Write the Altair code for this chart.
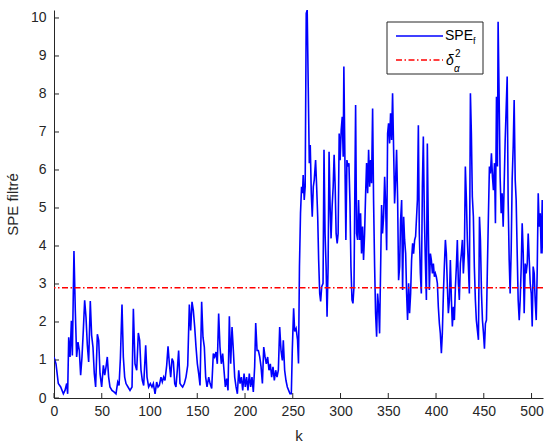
import altair as alt
import pandas as pd

# ---- data (k, SPE filtered) ----
k_a = [0, 2.1, 4.5, 7.0, 9.8, 11.5, 13.3, 14.3, 15.4, 16.8,
       18.2, 19.2, 20.9, 22.3, 23.7, 25.1, 26.5, 27.9, 29.3, 30.7,
       32.1, 33.5, 34.9, 36.3, 38.0, 39.4, 40.8, 42.2, 43.6, 45.4,
       46.8, 48.2, 49.9, 51.7, 53.1, 54.5, 55.8, 57.2, 58.6, 60.7,
       62.8, 64.9, 66.7, 68.1, 69.5, 71.2, 72.6, 74.0, 75.4, 77.5,
       79.6, 81.7, 83.1, 84.8, 86.6, 88.3, 89.7, 91.1, 92.5, 93.9,
       96.0, 97.4, 99.1, 100.9, 102.6, 104.0, 105.8, 107.5, 108.9, 110.3,
       112.0, 113.4, 114.8, 116.2, 118.0, 119.4, 120.8, 122.2, 123.6, 125.0,
       126.4, 127.7, 129.1, 130.5, 131.9, 133.3, 134.7, 136.5, 138.2, 140.0,
       141.7, 143.1, 144.5, 145.9, 147.3, 148.7, 150.1, 151.5, 152.9, 154.6,
       156.0, 157.4, 158.8, 160.2, 162.0, 163.4, 165.1, 166.8, 168.2, 169.6,
       171.0, 172.4, 173.8, 175.2, 176.6, 178.0, 179.4, 180.8, 182.2, 183.6,
       185.0, 186.4, 187.8, 189.2, 190.6, 192.0, 193.4, 194.8, 196.2, 197.6,
       199.0, 200.3, 201.7, 203.1, 204.5, 205.9, 207.3, 208.7, 210.1, 211.2,
       212.6, 214.0, 215.4, 216.8, 218.2, 219.6, 221.0, 222.3, 223.7, 225.1,
       226.5, 227.9, 229.3, 230.7, 232.1, 233.5, 234.9, 236.3, 237.7, 239.1,
       240.1, 241.5, 242.9, 244.3, 245.7, 247.1, 248.5]
v_a = [1.08, 0.9, 0.38, 0.29, 0.11, 0.2, 0.38, 0.11, 1.6, 1.08,
       2.03, 1.12, 3.87, 2.3, 1.08, 1.47, 1.25, 0.6, 1.08, 1.78,
       2.57, 2.13, 1.39, 0.95, 2.55, 1.65, 1.34, 0.64, 0.29, 1.68,
       1.52, 0.64, 0.29, 0.86, 0.6, 0.82, 1.08, 0.55, 0.29, 0.2,
       0.16, 0.11, 0.42, 0.33, 1.04, 2.46, 1.08, 0.55, 0.38, 0.29,
       0.2, 0.29, 2.35, 0.9, 0.73, 1.71, 1.52, 0.73, 0.46, 0.33,
       1.39, 0.55, 0.29, 0.38, 0.29, 0.38, 0.11, 0.42, 0.29, 0.33,
       0.55, 0.42, 0.55, 0.46, 0.86, 1.36, 0.9, 0.55, 1.04, 0.95,
       0.38, 0.29, 0.73, 1.25, 0.38, 0.33, 0.29, 0.38, 0.55, 0.86,
       2.46, 1.78, 2.53, 2.3, 1.87, 1.34, 0.9, 0.64, 0.33, 2.53,
       1.6, 1.34, 0.55, 0.29, 0.55, 0.38, 0.25, 1.17, 1.08, 1.21,
       0.9, 2.22, 1.34, 0.9, 1.17, 0.73, 0.29, 0.51, 0.2, 2.15,
       0.9, 1.87, 1.25, 0.55, 0.29, 0.11, 0.73, 0.38, 0.55, 0.2,
       0.64, 0.29, 0.55, 0.2, 0.64, 0.29, 0.55, 0.16, 0.82, 1.97,
       1.25, 1.25, 1.08, 0.82, 0.38, 1.34, 1.08, 0.9, 1.08, 0.73,
       0.9, 0.55, 0.82, 0.46, 0.73, 0.55, 0.73, 1.87, 1.25, 0.99,
       1.52, 0.73, 0.46, 0.29, 0.2, 0.11, 0.11]

k_b = [249.5, 250.9, 252.0, 253.5, 255.0, 256.0, 257.0, 258.1, 259.2, 260.2,
       260.9, 262.0, 263.0, 264.1, 265.1, 266.2, 267.3, 268.3, 269.4, 270.4,
       271.5, 272.5, 273.9, 275.0, 276.1, 277.1, 278.2, 279.2, 280.3, 281.7,
       282.7, 283.8, 284.9, 285.9, 287.0, 288.0, 289.1, 290.1, 291.2, 292.3,
       293.3, 294.4, 295.4, 296.5, 297.5, 298.6, 299.6, 300.7, 301.8, 302.8,
       303.5, 304.6, 305.6, 306.7, 307.7, 308.8, 309.9, 310.9, 312.0, 313.0, 314.1]
v_b = [1.26, 2.36, 1.75, 1.83, 1.53, 0.91, 3.46, 4.86, 5.56, 5.39,
       5.87, 5.21, 5.56, 10.12, 10.21, 8.19, 6.18, 6.66, 5.39, 4.77,
       5.56, 5.74, 6.26, 5.56, 4.77, 3.63, 2.75, 2.54, 2.93, 3.02,
       6.53, 4.33, 3.46, 2.14, 3.46, 6.48, 5.04, 4.2, 5.04, 5.56,
       6.4, 5.56, 4.33, 4.07, 4.33, 6.96, 6.26, 7.05, 7.4, 6.35,
       8.72, 6.26, 4.16, 6.26, 6.09, 6.18, 5.12, 3.46, 2.58, 2.49, 2.93]

k_c = [315.8, 316.8, 317.9, 318.9, 320.0, 321.0, 322.0, 323.1, 324.1, 325.2,
       326.3, 327.3, 328.4, 329.4, 330.5, 331.5, 332.5, 333.6, 334.6, 335.7,
       336.7, 337.8, 338.8, 339.9, 340.9, 341.9, 343.0, 344.0, 345.1, 346.2,
       347.2, 348.3, 349.3, 350.3, 351.4, 352.4, 353.5, 354.5, 355.6, 356.6,
       357.7, 358.7, 359.8, 360.8, 361.9, 362.9, 364.0, 365.0, 366.1, 367.1,
       368.2, 369.2, 370.2, 371.3, 372.3, 373.4, 374.4, 375.5, 376.5, 377.6, 378.6]
v_c = [7.71, 4.33, 4.16, 5.21, 4.16, 4.86, 3.8, 4.51, 3.63, 4.33,
       5.39, 6.18, 5.39, 6.53, 5.56, 6.26, 5.65, 7.62, 5.21, 3.46,
       2.23, 1.61, 2.75, 2.4, 1.7, 3.28, 5.08, 4.33, 4.77, 5.82,
       5.12, 3.89, 6.96, 7.23, 6.7, 7.49, 6.79, 8.02, 6.53, 5.12,
       5.74, 6.53, 5.21, 3.1, 3.46, 4.68, 5.21, 2.84, 4.77, 4.16,
       3.8, 2.75, 2.05, 3.02, 2.23, 2.75, 3.63, 4.07, 3.8, 4.16, 4.25]

k_d = [380.5, 381.5, 382.5, 383.6, 384.6, 385.7, 386.7, 387.8, 388.8, 389.9,
       390.9, 392.0, 393.0, 394.1, 395.1, 396.2, 397.2, 398.3, 399.3, 400.3,
       401.4, 402.4, 403.5, 404.5, 405.6, 406.6, 407.7, 408.7, 409.8, 410.8,
       411.9, 412.9, 414.0, 415.0, 416.1, 417.1, 418.2, 419.2, 420.3, 421.3,
       422.3, 423.4, 424.4, 425.5, 426.5, 427.6, 428.6, 429.7, 430.7, 431.8,
       432.8, 433.9, 434.9, 436.0, 437.0, 438.0, 439.1, 440.1, 441.2, 442.2]
v_d = [5.21, 7.18, 4.33, 3.28, 2.75, 5.56, 6.88, 4.77, 3.63, 2.58,
       6.7, 4.33, 2.84, 3.8, 3.63, 3.28, 3.54, 3.19, 3.28, 3.19,
       3.02, 2.4, 1.96, 1.7, 1.18, 1.7, 2.75, 3.46, 4.16, 3.8,
       2.93, 2.23, 2.58, 3.63, 2.58, 1.88, 2.4, 2.05, 2.93, 3.46,
       4.16, 3.02, 2.58, 3.54, 3.8, 4.16, 3.28, 3.8, 6.09, 5.21,
       4.16, 3.46, 2.75, 8.02, 6.96, 5.3, 4.77, 3.46, 2.58, 2.05]

k_e = [444.4, 445.5, 446.5, 447.6, 448.6, 449.7, 450.7, 451.7, 452.8, 453.8,
       454.9, 455.9, 457.0, 458.0, 459.1, 460.1, 461.2, 462.2, 463.3, 464.3,
       465.0, 466.1, 467.1, 468.2, 469.2, 470.3, 471.3, 472.4, 473.4, 474.5,
       475.5, 476.6, 477.6, 478.7, 479.7, 480.8, 481.8, 482.9, 483.9, 485.0,
       486.0, 487.1, 488.1, 489.2, 490.2, 491.3, 492.3, 493.4, 494.4, 495.5,
       496.5, 497.6, 498.6, 499.7, 500.7, 501.7, 502.8, 503.8, 504.9, 505.9,
       507.0, 508.0, 509.1, 510.1, 511.2, 512.0]
v_e = [1.53, 4.77, 4.16, 2.75, 2.05, 1.7, 1.3, 1.96, 2.05, 3.46,
       4.86, 6.09, 5.91, 6.44, 5.82, 5.47, 6.18, 4.6, 7.93, 6.09,
       9.9, 7.84, 5.82, 4.86, 5.39, 4.51, 5.56, 6.79, 7.58, 8.46,
       5.21, 3.63, 2.75, 3.89, 5.74, 6.61, 7.84, 5.74, 5.21, 3.8,
       2.58, 2.05, 2.58, 3.46, 4.6, 3.8, 2.23, 3.54, 3.28, 3.54,
       4.33, 3.63, 3.02, 2.75, 1.88, 3.46, 3.28, 2.58, 2.05, 3.28,
       5.39, 4.51, 4.86, 3.8, 5.21, 3.8]

threshold = [2.9]
x_ticks = [0, 50, 100, 150, 200, 250, 300, 350, 400, 450, 500]
y_ticks = [0, 1, 2, 3, 4, 5, 6, 7, 8, 9, 10]

k_all = k_a + k_b + k_c + k_d + k_e
v_all = v_a + v_b + v_c + v_d + v_e
df = pd.DataFrame({"k": k_all, "v": v_all})

W, H = 489, 388
FONT = "Liberation Sans"
INK = "#262626"
xscale = alt.Scale(domain=[0, 512], nice=False, zero=False)
yscale = alt.Scale(domain=[0, 10.21], nice=False)

x_axis = alt.Axis(values=x_ticks, tickCount=11, labelPadding=6, titlePadding=10,
                  labelFlush=False, labelOverlap=False)
y_axis = alt.Axis(values=y_ticks, tickCount=11, labelPadding=8, titlePadding=10,
                  labelFlush=False, labelOverlap=False)

line = alt.Chart(df).mark_line(color="#0000ff", strokeWidth=1.6, clip=True).encode(
    x=alt.X("k:Q", scale=xscale, title="k", axis=x_axis),
    y=alt.Y("v:Q", scale=yscale, title="SPE filtré", axis=y_axis),
)

thr = alt.Chart(pd.DataFrame({"t": threshold})).mark_rule(
    color="#ff0000", strokeWidth=1.4, strokeDash=[6, 2.5, 1.5, 2.5]
).encode(y=alt.Y("t:Q", scale=yscale, title="SPE filtré", axis=y_axis))

xt = alt.Chart(pd.DataFrame({"xv": x_ticks})).mark_rule(color=INK, strokeWidth=1).encode(
    x=alt.X("xv:Q", scale=xscale, title="k", axis=x_axis), y=alt.value(H), y2=alt.value(H - 5))
yt = alt.Chart(pd.DataFrame({"yv": y_ticks})).mark_rule(color=INK, strokeWidth=1).encode(
    y=alt.Y("yv:Q", scale=yscale, title="SPE filtré", axis=y_axis), x=alt.value(0), x2=alt.value(5))

one = pd.DataFrame({"a": [0]})
box = alt.Chart(one).mark_rect(fill="white", stroke=INK, strokeWidth=1).encode(
    x=alt.value(333), x2=alt.value(429), y=alt.value(12), y2=alt.value(64))
leg1 = alt.Chart(one).mark_rule(color="#0000ff", strokeWidth=1.5).encode(
    x=alt.value(342), x2=alt.value(389), y=alt.value(26))
leg2 = alt.Chart(one).mark_rule(color="#ff0000", strokeWidth=1.4, strokeDash=[6, 2.5, 1.5, 2.5]).encode(
    x=alt.value(342), x2=alt.value(389), y=alt.value(50))

def txt(s, x, y, size, style="normal"):
    return alt.Chart(one).mark_text(text=s, align="left", baseline="middle", font=FONT,
                                    fontSize=size, fontStyle=style, color="black").encode(
        x=alt.value(x), y=alt.value(y))

t1 = txt("SPE", 391, 26, 14)
t1s = txt("f", 419, 31, 9)
t2 = txt("δ", 392, 51, 14, "italic")
t2a = txt("2", 401, 44, 10)
t2b = txt("α", 400, 59, 10, "italic")

chart = alt.layer(line, thr, xt, yt, box, leg1, leg2, t1, t1s, t2, t2a, t2b).properties(
    width=W, height=H,
    autosize=alt.AutoSizeParams(type="none"),
    padding={"left": 54, "top": 10, "right": 3, "bottom": 45},
    background="white",
).configure_view(stroke=None).configure_axis(
    grid=False, ticks=False, domainColor=INK, domainWidth=1,
    labelColor=INK, labelFont=FONT, labelFontSize=14, labelOverlap=False,
    titleColor=INK, titleFont=FONT, titleFontSize=15, titleFontWeight="normal",
)

chart.save("out.html", embed_options={"renderer": "svg", "actions": False})
